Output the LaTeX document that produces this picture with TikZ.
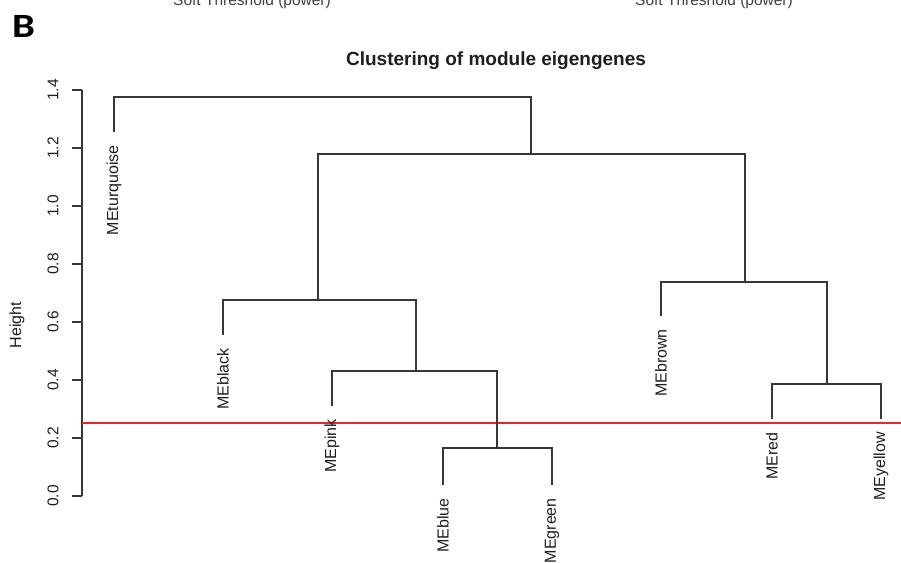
\documentclass[tikz,border=0pt]{standalone}
\usepackage{fontspec}
\setmainfont{Liberation Sans}
\newfontfamily\calib{Carlito}
\definecolor{ln}{RGB}{55,55,55}
\definecolor{tx}{RGB}{30,30,30}
\definecolor{cutred}{RGB}{228,40,45}
\begin{document}
\begin{tikzpicture}[x=1pt,y=-1pt,
  dline/.style={draw=ln,line width=1.1pt},
  leaflab/.style={anchor=east,rotate=90,inner sep=0pt,font=\fontsize{16}{16}\selectfont,text=tx},
  ticklab/.style={rotate=90,inner sep=0pt,font=\fontsize{15.5}{16}\selectfont,text=tx},
]
\useasboundingbox (0,0) rectangle (901,562);
% partial headings of the panel above
\node[anchor=base,inner sep=0pt,font=\fontsize{15.5}{16}\selectfont,text=tx!85] (h1) at (252,5.5) {Soft Threshold (power)};
\node[anchor=base,inner sep=0pt,font=\fontsize{15.5}{16}\selectfont,text=tx!85] (h2) at (714,5.5) {Soft Threshold (power)};
% panel letter
\node[anchor=base west,inner sep=0pt,xscale=1.2,font=\calib\bfseries\fontsize{34}{34}\selectfont] (B) at (12,37) {B};
% title
\node[inner sep=0pt,font=\bfseries\fontsize{19}{20}\selectfont,text=tx] (title) at (496,61) {Clustering of module eigengenes};
% y axis
\coordinate (ax0) at (82,496);
\coordinate (ax1) at (82,90);
\draw[dline] (ax0) -- (ax1);
\foreach \v/\lab [count=\i] in {0/0.0,1/0.2,2/0.4,3/0.6,4/0.8,5/1.0,6/1.2,7/1.4}{
  \coordinate (t\i) at (82,496-58*\v);
  \draw[dline] (t\i) -- ++(-10,0);
  \node[ticklab] (tl\i) at (53,496-58*\v) {\lab};
}
\node[ticklab,font=\fontsize{16}{16}\selectfont] (ylab) at (17,325) {Height};
% cut line
\coordinate (cutL) at (82,423);
\coordinate (cutR) at (901,423);
\draw[cutred,line width=1.1pt] (cutL) -- (cutR);
% leaves
\coordinate (lTurq) at (114,132);
\coordinate (lBlack) at (223,335);
\coordinate (lPink) at (332,406);
\coordinate (lBlue) at (443,485);
\coordinate (lGreen) at (552,485);
\coordinate (lBrown) at (661,316);
\coordinate (lRed) at (772,419);
\coordinate (lYellow) at (881,419);
% merges
\coordinate (mBG) at (497,448);
\coordinate (mPBG) at (416,371);
\coordinate (mK) at (318,300);
\coordinate (mRY) at (827,384);
\coordinate (mBr) at (745,282);
\coordinate (mMid) at (531,154);
\coordinate (mRoot) at (322,97);
\draw[dline] (lBlue) |- (mBG) -| (lGreen);
\draw[dline] (lPink) |- (mPBG) -| (mBG);
\draw[dline] (lBlack) |- (mK) -| (mPBG);
\draw[dline] (lRed) |- (mRY) -| (lYellow);
\draw[dline] (lBrown) |- (mBr) -| (mRY);
\draw[dline] (mK) |- (mMid) -| (mBr);
\draw[dline] (lTurq) |- (mRoot) -| (mMid);
% leaf labels
\node[leaflab] (nTurq) at ([yshift=-13pt]lTurq) {MEturquoise};
\node[leaflab] (nBlack) at ([yshift=-13pt]lBlack) {MEblack};
\node[leaflab] (nPink) at ([yshift=-13pt]lPink) {MEpink};
\node[leaflab] (nBlue) at ([yshift=-13pt]lBlue) {MEblue};
\node[leaflab] (nGreen) at ([yshift=-13pt]lGreen) {MEgreen};
\node[leaflab] (nBrown) at ([yshift=-13pt]lBrown) {MEbrown};
\node[leaflab] (nRed) at ([yshift=-13pt]lRed) {MEred};
\node[leaflab] (nYellow) at ([yshift=-13pt]lYellow) {MEyellow};
\end{tikzpicture}
\end{document}
